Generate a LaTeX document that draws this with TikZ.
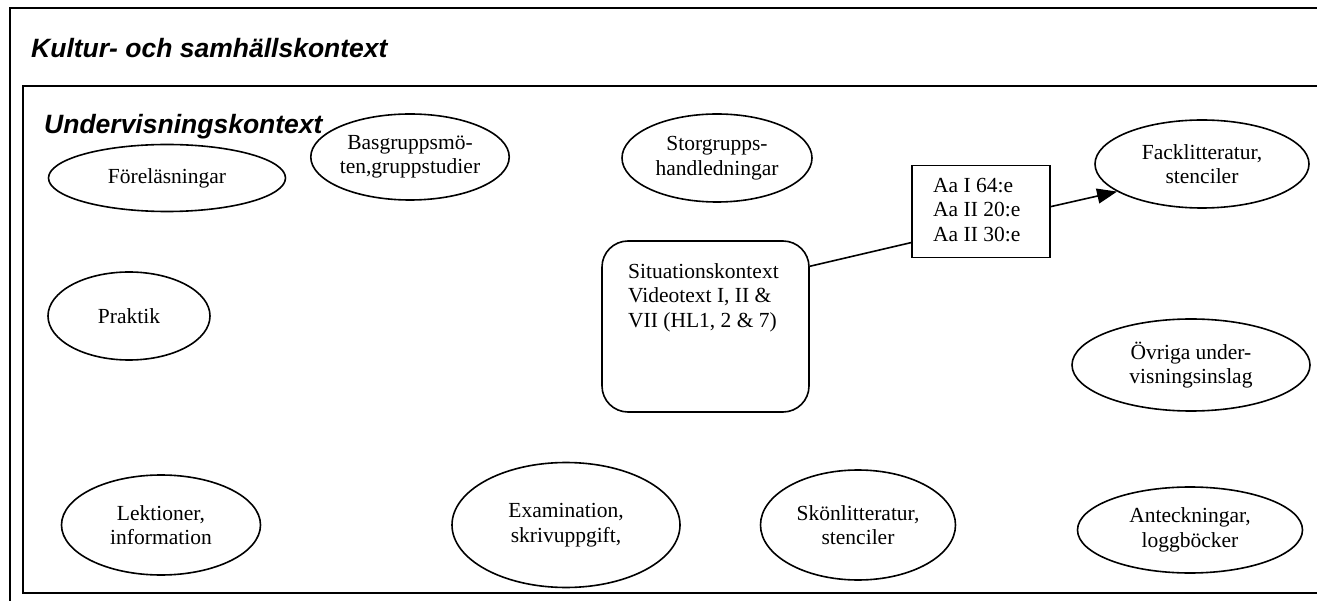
\documentclass[tikz,border=0pt]{standalone}
\usepackage{fontspec}
\setmainfont{Liberation Serif}
\newfontfamily\headfont{Liberation Sans}
\usetikzlibrary{arrows.meta,shapes.geometric}
\newcommand\mybody{\fontsize{21.5}{24.5}\selectfont}
\newcommand\myhead{\headfont\bfseries\itshape\fontsize{26.5}{30}\selectfont}
\tikzset{
  frameline/.style={line width=1.8pt},
  oval/.style={ellipse, draw, line width=1.6pt, inner sep=0pt, align=center, font=\mybody},
  boxnode/.style={draw, line width=1.6pt, inner sep=0pt},
  headtext/.style={inner sep=0pt, anchor=base west, font=\myhead},
  plaintext/.style={inner sep=0pt, align=left, font=\mybody},
  connector/.style={line width=1.6pt},
  arrowline/.style={line width=1.6pt, -{Triangle[length=20pt,width=15pt]}}
}
\begin{document}
\begin{tikzpicture}[x=1pt,y=-1pt]
\useasboundingbox (0,0) rectangle (1317,601);
\clip (0,0) rectangle (1317,601);
\fill[white] (0,0) rectangle (1317,601);
% frames
\draw[frameline] (1330,8) -- (10,8) -- (10,620);
\draw[frameline] (1330,86) -- (23,86) -- (23,593) -- (1330,593);
% headings
\node[headtext] (kultur) at (31,58) {Kultur- och samh\"allskontext};
\node[headtext] (underv) at (44,134) {Undervisningskontext};
% ellipses
\node[oval, minimum width=237pt, minimum height=67pt] (forel) at (167,178) {F\"orel\"asningar};
\node[oval, minimum width=196pt, minimum height=86pt] (basg) at (410,157) {Basgruppsm\"o-\\ten,gruppstudier};
\node[oval, minimum width=190pt, minimum height=88pt] (storg) at (717,158) {Storgrupps-\\handledningar};
\node[oval, minimum width=214pt, minimum height=88pt] (fack) at (1202,164) {Facklitteratur,\\stenciler};
\node[oval, minimum width=162pt, minimum height=88pt] (prakt) at (129,316) {Praktik};
\node[oval, minimum width=238pt, minimum height=92pt] (ovr) at (1191,365) {\"Ovriga under-\\visningsinslag};
\node[oval, minimum width=199pt, minimum height=100pt] (lekt) at (161,525) {Lektioner,\\information};
\node[oval, minimum width=228pt, minimum height=125pt] (exam) at (566,525) {Examination,\\skrivuppgift,};
\node[oval, minimum width=195pt, minimum height=110pt] (skon) at (858,525) {Sk\"onlitteratur,\\stenciler};
\node[oval, minimum width=225pt, minimum height=86pt] (ante) at (1190,530) {Anteckningar,\\loggb\"ocker};
% situation box
\node[boxnode, rounded corners=26pt, minimum width=207pt, minimum height=171pt] (sit) at (705.5,326.5) {};
\node[plaintext, anchor=north west] (sittext) at (628,263) {Situationskontext\\Videotext I, II \&\\VII (HL1, 2 \& 7)};
% Aa box
\node[boxnode, minimum width=138pt, minimum height=92pt] (aa) at (981,211.5) {};
\node[plaintext, anchor=north west] (aatext) at (933,178) {Aa I 64:e\\Aa II 20:e\\Aa II 30:e};
% connectors
\draw[connector] (sit.30) -- (aa.204);
\draw[arrowline] (aa.4) -- (fack.198);
\end{tikzpicture}
\end{document}
